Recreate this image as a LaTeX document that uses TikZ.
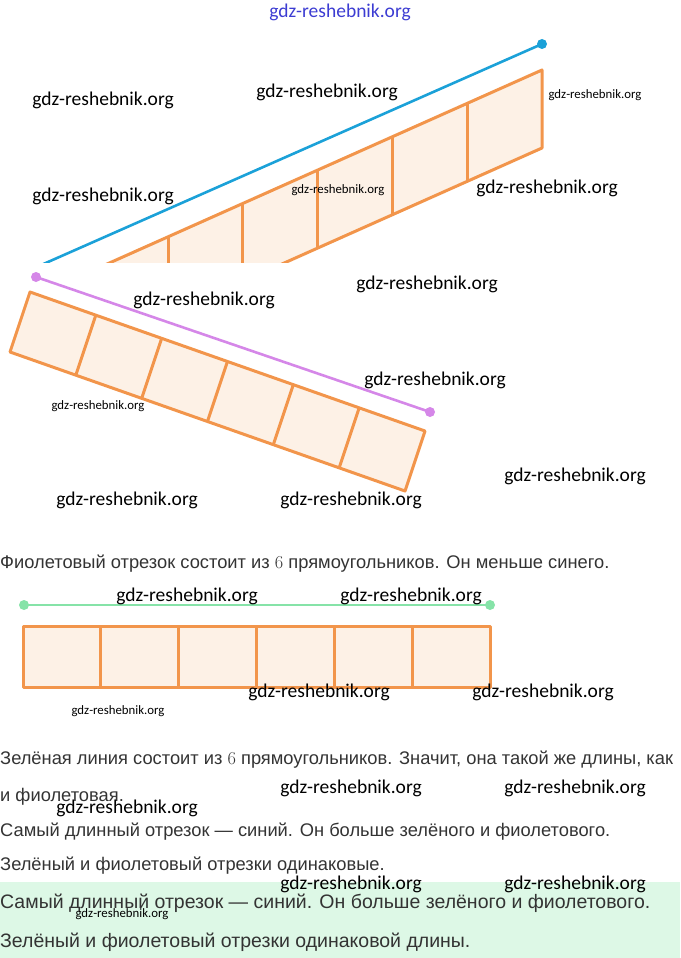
\documentclass[tikz,border=0pt]{standalone}
\usepackage{fontspec}
\newfontfamily\bodyfont{Liberation Sans}
\newfontfamily\wmfont{Carlito}
\usetikzlibrary{positioning}

\definecolor{segblue}{HTML}{1BA1D8}
\definecolor{segviolet}{HTML}{D587E8}
\definecolor{seggreen}{HTML}{86E3A8}
\definecolor{cellorange}{HTML}{F2954B}
\definecolor{cellfill}{HTML}{FDF1E6}
\definecolor{answerband}{HTML}{DDF8E6}
\definecolor{textgray}{HTML}{333333}
\definecolor{markblue}{HTML}{3C3CD2}

\begin{document}
\begin{tikzpicture}[x=1pt, y=-1pt, line join=round,
    cellstrip/.style={draw=cellorange, line width=3pt, fill=cellfill},
    cellwall/.style={draw=cellorange, line width=3pt},
    segline/.style={line width=2.6pt},
    enddot/.style={circle, fill, inner sep=0pt, minimum size=10pt},
    answer/.style={font=\bodyfont\fontsize{18.3}{20}\selectfont, text=textgray, anchor=base west, inner sep=0pt},
    bigAnswer/.style={answer, font=\bodyfont\fontsize{19.5}{21}\selectfont},
    wm/.style={font=\wmfont\fontsize{19.5}{20}\selectfont, text=black, inner sep=0pt},
    wmsmall/.style={wm, font=\wmfont\fontsize{12.8}{13}\selectfont}]
    \useasboundingbox (0,0) rectangle (680,958);

    % blue segment over the rising strip (cut at the bottom)
    \begin{scope}
        \clip (0,0) rectangle (680,262);
        \path[cellstrip] (93.2,270.2) -- (542,70) -- (542,148) -- (93.2,348.2) -- cycle;
        \foreach \k in {1,...,5}
            \draw[cellwall] (93.2+74.8*\k,270.2-33.37*\k) -- (93.2+74.8*\k,348.2-33.37*\k);
        \node[enddot, segblue] (blueA) at (14,277) {};
        \node[enddot, segblue] (blueB) at (542,44) {};
        \draw[segline, segblue] (blueA.center) -- (blueB.center);
    \end{scope}

    % violet segment over the falling strip
    \path[cellstrip] (30,292) -- (425,431) -- (405,491) -- (10,352) -- cycle;
    \foreach \k in {1,...,5}
        \draw[cellwall] (30+65.83*\k,292+23.17*\k) -- (10+65.83*\k,352+23.17*\k);
    \node[enddot, segviolet] (violetA) at (36,277) {};
    \node[enddot, segviolet] (violetB) at (430,412) {};
    \draw[segline, segviolet] (violetA.center) -- (violetB.center);

    \node[answer] (line1) at (0,568) {Фиолетовый отрезок состоит из {\rmfamily 6} прямоугольников. Он меньше синего.};

    % green segment over the flat strip
    \path[cellstrip] (23,626) rectangle (490,687);
    \foreach \k in {1,...,5}
        \draw[cellwall] (23+77.83*\k,626) -- (23+77.83*\k,687);
    \node[enddot, seggreen] (greenA) at (24,605) {};
    \node[enddot, seggreen] (greenB) at (490,605) {};
    \draw[segline, seggreen] (greenA.center) -- (greenB.center);

    \node[answer] (line2) at (0,764) {Зелёная линия состоит из {\rmfamily 6} прямоугольников. Значит, она такой же длины, как};
    \node[answer] (line3) at (0,801) {и фиолетовая.};
    \node[answer] (line4) at (0,836) {Самый длинный отрезок — синий. Он больше зелёного и фиолетового.};
    \node[answer] (line5) at (0,870) {Зелёный и фиолетовый отрезки одинаковые.};

    \fill[answerband] (0,882) rectangle (680,958);
    \node[bigAnswer] (band1) at (0,908) {Самый длинный отрезок — синий. Он больше зелёного и фиолетового.};
    \node[bigAnswer] (band2) at (0,947) {Зелёный и фиолетовый отрезки одинаковой длины.};

    % watermarks
    \node[wm, text=markblue] (mark0) at (340,12) {gdz-reshebnik.org};
    \foreach \x/\y [count=\i] in {103/100, 327/92, 103/196, 547/188, 204/300, 427/284,
        435/380, 575/476, 127/500, 351/500, 187/596, 411/596, 319/692, 543/692,
        351/788, 575/788, 127/808, 351/884, 575/884}
        \node[wm] (mark\i) at (\x,\y) {gdz-reshebnik.org};
    \foreach \x/\y [count=\i] in {595/95, 338/190, 98/406, 118/711, 122/914}
        \node[wmsmall] (smallmark\i) at (\x,\y) {gdz-reshebnik.org};
\end{tikzpicture}
\end{document}
